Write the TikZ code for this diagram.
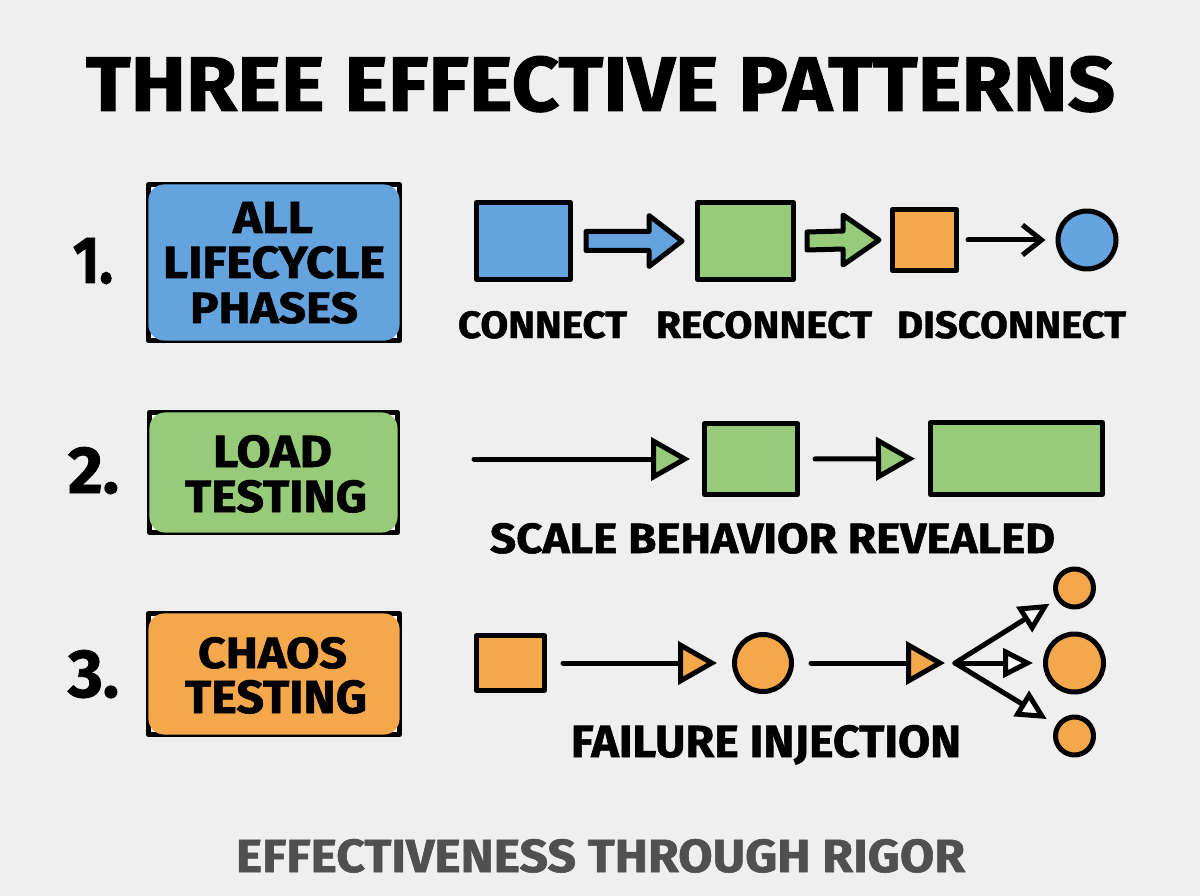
\documentclass[tikz,border=0pt]{standalone}
\usepackage{fontspec}
\setmainfont{Fira Sans}[BoldFeatures={FakeBold=1.2}]
\usepackage{graphicx}
\usetikzlibrary{arrows.meta,calc}
\definecolor{bg}{HTML}{EFEFEF}
\definecolor{cblue}{HTML}{65A3DF}
\definecolor{cgreen}{HTML}{98CB79}
\definecolor{corange}{HTML}{F4A84B}
\definecolor{cgray}{HTML}{505050}
\definecolor{paper}{HTML}{FAFAFA}
\newcommand\fitt[3]{\resizebox{#1pt}{#2pt}{\bfseries #3}}
\begin{document}
\begin{tikzpicture}[x=1pt,y=-1pt,
  txt/.style={inner sep=0pt, anchor=base},
  frame/.style={draw=black, fill=paper, line width=5pt, line join=round, inner sep=0pt},
  shp/.style={draw=black, line width=5pt, line join=round, inner sep=0pt},
  blk/.style={draw=black, line width=5pt, line join=round},
  con/.style={draw=black, line width=5pt, line cap=round, line join=round},
  tri/.style={con, -{Triangle[fill=#1, length=39pt, width=43pt]}},
  opentri/.style={con, -{Triangle[fill=paper, length=30pt, width=29pt]}},
  barb/.style={con, -{Straight Barb[length=19pt, width=30pt]}}
]
\useasboundingbox (0,0) rectangle (1200,896);
\fill[bg] (0,0) rectangle (1200,896);

% title
\node[txt] (title) at (600.5,111) {\fitt{1029}{55}{THREE EFFECTIVE PATTERNS}};

% numbers
\node[txt] (n1) at (93,283) {\fitt{40}{45}{1.}};
\node[txt] (n2) at (93.5,493) {\fitt{51}{46}{2.}};
\node[txt] (n3) at (93.5,697) {\fitt{51}{47}{3.}};

% left boxes
\node[frame, minimum width=251pt, minimum height=156pt] (b1) at (274,262.5) {};
\fill[cblue, rounded corners=16pt] ($(b1.north west)+(2.4,2.4)$) rectangle ($(b1.south east)+(-2.4,-2.4)$);
\node[frame, minimum width=248pt, minimum height=120pt] (b2) at (273.5,472.5) {};
\fill[cgreen, rounded corners=16pt] ($(b2.north west)+(2.4,2.4)$) rectangle ($(b2.south east)+(-2.4,-2.4)$);
\node[frame, minimum width=251pt, minimum height=121pt] (b3) at (274,674) {};
\fill[corange, rounded corners=16pt] ($(b3.north west)+(2.4,2.4)$) rectangle ($(b3.south east)+(-2.4,-2.4)$);

\node[txt] (t1a) at (273,233) {\fitt{80}{31}{ALL}};
\node[txt] (t1b) at (274,278) {\fitt{222}{32}{LIFECYCLE}};
\node[txt] (t1c) at (274,323) {\fitt{168}{31}{PHASES}};
\node[txt] (t2a) at (272.5,467) {\fitt{119}{32}{LOAD}};
\node[txt] (t2b) at (276,512) {\fitt{182}{32}{TESTING}};
\node[txt] (t3a) at (272.5,668) {\fitt{149}{31}{CHAOS}};
\node[txt] (t3b) at (276,713) {\fitt{182}{33}{TESTING}};

% row 1
\node[shp, fill=cblue, minimum width=94pt, minimum height=77pt] (s1) at (523.5,241) {};
\node[shp, fill=cgreen, minimum width=96pt, minimum height=77pt] (s2) at (745.5,241) {};
\node[shp, fill=corange, minimum width=64pt, minimum height=61pt] (s3) at (924.5,240) {};
\node[shp, fill=cblue, circle, minimum size=58pt] (c1) at (1087,240) {};

\filldraw[blk, fill=cblue] ($(s1.east)+(13,-9.5)$) -- ($(s2.west)+(-46,-9.5)$) -- ($(s2.west)+(-46,-25.5)$)
  -- ($(s2.west)+(-13,0)$) -- ($(s2.west)+(-46,25.5)$) -- ($(s2.west)+(-46,9.5)$) -- ($(s1.east)+(13,9.5)$) -- cycle;
\filldraw[blk, fill=cgreen] ($(s2.east)+(11,-9)$) -- ($(s3.west)+(-47,-9)$) -- ($(s3.west)+(-47,-25)$)
  -- ($(s3.west)+(-11,0)$) -- ($(s3.west)+(-47,25)$) -- ($(s3.west)+(-47,9)$) -- ($(s2.east)+(11,9)$) -- cycle;
\draw[barb, shorten <=9pt, shorten >=10pt] (s3) -- (c1);

\node[txt] (l1) at (542.5,338) {\fitt{169}{27}{CONNECT}};
\node[txt] (l2) at (764,338) {\fitt{216}{27}{RECONNECT}};
\node[txt] (l3) at (1011.5,338) {\fitt{229}{27}{DISCONNECT}};

% row 2
\coordinate (start2) at (474,459);
\node[shp, fill=cgreen, minimum width=93pt, minimum height=71pt] (s4) at (751,459) {};
\node[shp, fill=cgreen, minimum width=172pt, minimum height=72pt] (s5) at (1016.5,458.5) {};
\draw[tri=cgreen, shorten >=12pt] (start2) -- (s4);
\draw[tri=cgreen, shorten <=15pt, shorten >=13pt] (s4) -- (s5);
\node[txt] (l4) at (772.5,553) {\fitt{565}{30}{SCALE BEHAVIOR REVEALED}};

% row 3
\node[shp, fill=corange, minimum width=68pt, minimum height=55pt] (s6) at (510.5,663) {};
\node[shp, fill=corange, circle, minimum size=57pt] (c2) at (763,663) {};
\coordinate (br) at (955,663);
\node[shp, fill=corange, circle, minimum size=38pt] (c3) at (1074.5,588) {};
\node[shp, fill=corange, circle, minimum size=58pt] (c4) at (1074.5,663) {};
\node[shp, fill=corange, circle, minimum size=38pt] (c5) at (1074.5,736) {};
\draw[tri=corange, shorten <=16pt, shorten >=15pt] (s6) -- (c2);
\draw[tri=corange, shorten <=17pt, shorten >=10pt] (c2) -- (br);
\draw[opentri, shorten >=8pt] (br) -- (c3);
\draw[opentri, shorten >=10pt] (br) -- (c4);
\draw[opentri, shorten >=11pt] (br) -- (c5);
\node[txt] (l5) at (766,757) {\fitt{390}{32}{FAILURE INJECTION}};

% footer
\node[txt, text=cgray] (foot) at (600.5,872) {\fitt{729}{33}{EFFECTIVENESS THROUGH RIGOR}};
\end{tikzpicture}
\end{document}
